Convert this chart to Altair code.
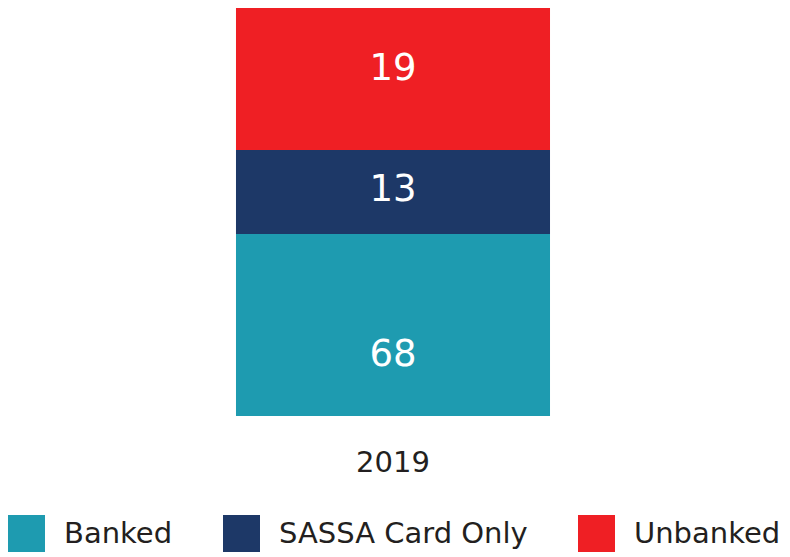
import altair as alt
import pandas as pd

year = ["2019", "2019", "2019"]
categories = ["Banked", "SASSA Card Only", "Unbanked"]
labels = [68, 13, 19]
# segment heights as drawn in the picture (share of the bar, %)
drawn_share = [44.6, 20.6, 34.8]
order = [1, 2, 3]
colors = ["#1E9BB0", "#1D3867", "#EF1F24"]

df = pd.DataFrame({
    "year": year,
    "category": categories,
    "label": labels,
    "share": drawn_share,
    "order": order,
})

FONT = "DejaVu Sans"

x_enc = alt.X(
    "year:N",
    title=None,
    scale=alt.Scale(paddingInner=0, paddingOuter=0.726),
    axis=alt.Axis(domain=False, ticks=False, labelAngle=0, labelFontSize=29,
                  labelFont=FONT, labelFontWeight=500, labelColor="#231F20",
                  labelPadding=32),
)

bars = alt.Chart(df).mark_bar().encode(
    x=x_enc,
    y=alt.Y("share:Q", stack="zero", scale=alt.Scale(domain=[0, 100], nice=False), axis=None),
    color=alt.Color(
        "category:N",
        scale=alt.Scale(domain=categories, range=colors),
        legend=alt.Legend(
            title=None, orient="none", direction="horizontal",
            legendX=0, legendY=507,
            symbolType="square", symbolSize=1369, symbolStrokeWidth=0, symbolOpacity=1,
            labelFontSize=29, labelFont=FONT, labelColor="#231F20",
            labelOffset=19, columnPadding=50, labelLimit=400,
        ),
    ),
    order=alt.Order("order:Q", sort="ascending"),
)

base_text = alt.Chart(df).transform_stack(
    stack="share", groupby=["year"], as_=["y0", "y1"], sort=[alt.SortField("order", "ascending")]
).transform_calculate(mid="(datum.y0 + datum.y1) / 2")


def text_layer(cat, dy):
    return base_text.transform_filter(alt.datum.category == cat).mark_text(
        color="white", fontSize=37, font=FONT, baseline="middle", align="center", dy=dy
    ).encode(
        x=alt.X("year:N"),
        y=alt.Y("mid:Q"),
        text=alt.Text("label:Q"),
    )


chart = alt.layer(
    bars,
    text_layer("Banked", 30),
    text_layer("SASSA Card Only", -2),
    text_layer("Unbanked", -10),
).properties(width=770, height=408, padding=0).configure_view(stroke=None)

chart.save("out.html", embed_options={"renderer": "svg", "actions": False})
